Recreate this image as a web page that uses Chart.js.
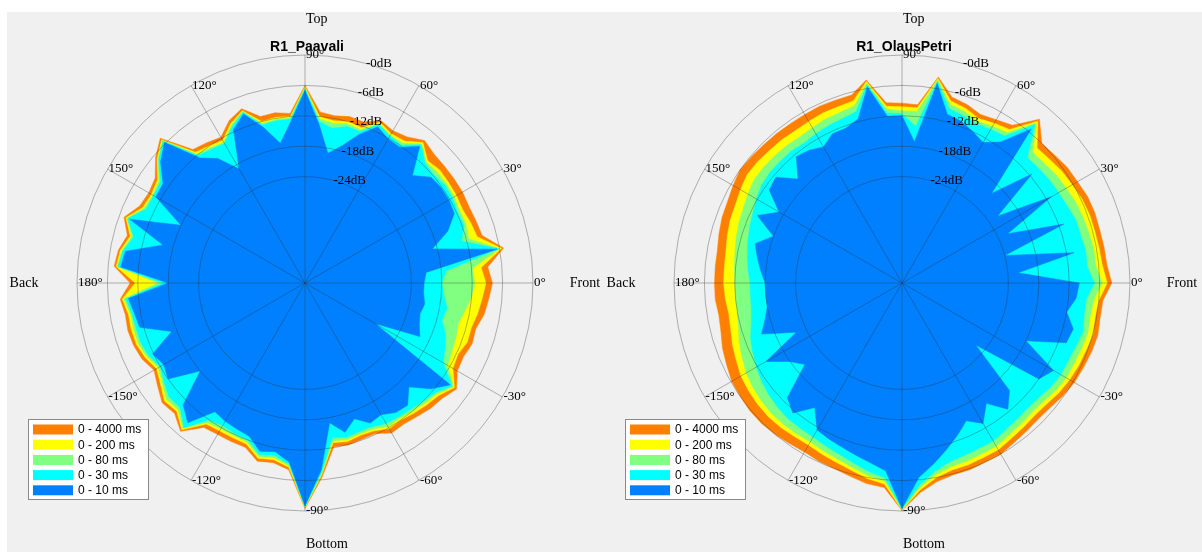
<!DOCTYPE html>
<html>
<head>
<meta charset="utf-8">
<title>R1 polar</title>
<script src="https://cdn.jsdelivr.net/npm/chart.js@4.4.0/dist/chart.umd.min.js"></script>
<style>
  html, body { margin: 0; padding: 0; background: #fff; }
  #wrap { position: relative; width: 1202px; height: 552px; overflow: hidden; }
  #panel { position: absolute; left: 7px; top: 12px; right: 0; bottom: 0; background: #f0f0f0; }
  canvas { position: absolute; left: 0; top: 0; }
</style>
</head>
<body>
<div id="wrap">
  <div id="panel"></div>
  <canvas id="paavali" width="1202" height="552" style="width:1202px;height:552px"></canvas>
  <canvas id="olaus" width="1202" height="552" style="width:1202px;height:552px"></canvas>
</div>
<script>
// direction of each sample, degrees counter-clockwise from Front
const angleDeg = [
  0, 5, 10, 15, 20, 25, 30, 35, 40, 45, 50, 55,
  60, 65, 70, 75, 80, 85, 90, 95, 100, 105, 110, 115,
  120, 125, 130, 135, 140, 145, 150, 155, 160, 165, 170, 175,
  180, 185, 190, 195, 200, 205, 210, 215, 220, 225, 230, 235,
  240, 245, 250, 255, 260, 265, 270, 275, 280, 285, 290, 295,
  300, 305, 310, 315, 320, 325, 330, 335, 340, 345, 350, 355
]

const legendLabels = ["0 - 4000 ms", "0 - 200 ms", "0 - 80 ms", "0 - 30 ms", "0 - 10 ms"]
const bandColors = ["#ff8000", "#ffff00", "#80ff80", "#00ffff", "#0080ff"]

const thetaTicks = [0, 30, 60, 90, 120, 150, 180, 210, 240, 270, 300, 330]
const thetaLabels = ["0", "30", "60", "90", "120", "150", "180", "-150", "-120", "-90", "-60", "-30"]
const ringTicks = [-24, -18, -12, -6, 0]
const rAxisAngle = 74.5

// R1_Paavali, level in dB
const paavali4000 = [
  -8.0, -8.8, -5.2, -8.8, -9.1, -9.3, -9.1, -9.1, -9.1, -9.0, -8.3, -9.8,
  -10.3, -9.6, -11.2, -11.0, -11.5, -11.1, -6.0, -11.4, -10.9, -11.0, -8.4, -9.6,
  -11.8, -11.2, -10.6, -4.6, -6.5, -8.9, -9.4, -9.0, -7.0, -8.7, -7.6, -7.2,
  -10.5, -8.4, -9.0, -8.8, -9.0, -9.5, -10.6, -9.5, -8.2, -8.6, -6.8, -10.2,
  -10.5, -10.5, -10.5, -8.6, -9.0, -8.0, -0.5, -6.5, -12.2, -11.9, -12.2, -12.2,
  -10.8, -11.0, -10.6, -10.0, -9.6, -8.5, -10.3, -10.5, -9.9, -10.1, -9.1, -8.6
]
const paavali200 = [
  -9.3, -10.1, -5.6, -9.8, -10.2, -10.7, -10.5, -10.4, -10.3, -10.8, -8.8, -10.8,
  -11.0, -10.0, -12.4, -12.0, -12.5, -12.0, -6.3, -12.0, -11.8, -12.0, -8.8, -10.3,
  -12.5, -12.0, -11.3, -5.0, -6.9, -9.5, -10.0, -9.7, -7.4, -9.3, -8.0, -7.6,
  -11.5, -8.8, -9.6, -9.5, -9.6, -10.2, -11.2, -10.2, -8.8, -9.2, -7.2, -11.0,
  -11.3, -11.3, -11.2, -9.2, -9.6, -8.5, -0.7, -7.0, -13.0, -12.6, -13.0, -12.8,
  -11.8, -12.0, -11.5, -11.0, -10.5, -9.0, -11.3, -11.7, -10.9, -11.0, -10.4, -9.9
]
const paavali80 = [
  -11.5, -11.8, -6.0, -11.5, -11.2, -11.3, -11.0, -10.9, -11.0, -11.2, -9.2, -11.3,
  -11.3, -10.3, -12.8, -12.5, -13.0, -12.5, -6.5, -12.3, -12.2, -12.4, -9.0, -10.6,
  -12.9, -12.4, -11.8, -5.2, -7.1, -9.8, -10.3, -10.0, -7.6, -9.6, -8.3, -7.8,
  -16.0, -9.1, -10.0, -10.0, -10.0, -10.6, -11.6, -10.6, -9.3, -9.6, -7.5, -11.4,
  -11.8, -11.8, -11.6, -9.6, -10.0, -8.8, -0.8, -7.2, -13.4, -13.0, -13.4, -13.2,
  -12.3, -12.4, -12.0, -11.5, -11.0, -9.3, -12.5, -13.0, -13.3, -13.7, -13.0, -12.0
]
const paavali30 = [
  -18.0, -17.0, -6.2, -13.0, -11.6, -11.8, -11.4, -11.3, -11.8, -11.5, -9.4, -11.8,
  -11.5, -10.5, -13.2, -13.0, -14.0, -13.0, -6.7, -12.5, -12.5, -12.7, -9.2, -11.0,
  -13.2, -12.8, -12.2, -5.4, -7.3, -10.2, -10.5, -10.4, -7.8, -10.0, -8.5, -8.0,
  -17.0, -9.5, -10.3, -10.5, -10.5, -11.0, -12.0, -11.0, -10.0, -10.2, -7.8, -12.0,
  -12.5, -12.2, -12.0, -10.0, -10.5, -9.1, -0.9, -7.5, -14.0, -13.5, -13.8, -13.7,
  -13.0, -12.8, -12.5, -12.0, -11.4, -9.6, -13.5, -14.5, -15.5, -17.0, -16.5, -17.5
]
const paavali10 = [
  -21.5, -21.0, -6.5, -19.0, -15.0, -12.5, -12.2, -12.2, -12.5, -15.0, -9.8, -12.3,
  -12.2, -11.0, -13.8, -17.0, -19.0, -13.5, -7.0, -13.0, -17.0, -13.2, -9.5, -11.6,
  -19.0, -15.0, -12.8, -5.8, -7.8, -10.8, -11.0, -18.0, -8.2, -16.0, -9.0, -8.5,
  -18.0, -10.0, -10.8, -11.2, -17.0, -11.8, -12.8, -12.0, -18.0, -11.0, -9.0, -14.0,
  -13.5, -13.2, -12.8, -10.6, -11.2, -9.5, -1.0, -8.0, -17.0, -14.5, -16.5, -14.5,
  -15.0, -13.8, -13.5, -16.0, -12.5, -10.0, -29.0, -20.0, -21.0, -21.5, -21.0, -21.5
]

// R1_OlausPetri, level in dB
const olaus4000 = [
  -3.6, -4.4, -4.5, -4.6, -4.5, -4.6, -5.0, -5.2, -5.7, -6.0, -2.8, -7.0,
  -7.8, -8.3, -7.5, -7.0, -3.7, -9.7, -9.5, -9.3, -4.3, -6.6, -6.6, -6.5,
  -6.6, -6.6, -6.5, -6.4, -6.2, -6.0, -6.5, -7.0, -7.2, -7.6, -8.0, -8.0,
  -8.0, -8.0, -8.3, -8.0, -7.3, -6.8, -6.2, -6.0, -5.8, -5.8, -6.0, -6.3,
  -6.5, -6.2, -6.0, -5.5, -4.8, -4.5, -0.1, -3.5, -5.2, -5.8, -5.8, -6.0,
  -6.0, -6.5, -6.8, -7.0, -6.8, -6.2, -5.7, -5.5, -5.2, -5.0, -5.3, -5.2
]
const olaus200 = [
  -4.5, -5.3, -5.5, -5.6, -5.6, -5.8, -6.2, -6.5, -7.0, -7.3, -3.3, -8.0,
  -8.6, -9.2, -8.3, -7.8, -4.0, -10.3, -10.2, -10.0, -4.6, -7.8, -8.0, -8.0,
  -8.2, -8.3, -8.1, -8.0, -7.8, -7.7, -8.2, -8.7, -8.9, -9.3, -9.7, -9.8,
  -9.8, -10.0, -10.3, -10.0, -9.4, -8.9, -8.3, -8.0, -7.8, -7.7, -7.8, -8.0,
  -8.1, -7.7, -7.3, -6.7, -5.8, -5.2, -0.2, -4.0, -6.0, -6.8, -6.8, -7.0,
  -7.0, -7.5, -7.8, -8.0, -7.8, -7.2, -6.8, -6.5, -6.3, -6.0, -6.3, -6.0
]
const olaus80 = [
  -5.5, -6.6, -6.6, -6.8, -7.0, -7.2, -7.6, -7.8, -8.3, -8.5, -3.8, -8.8,
  -9.3, -9.8, -9.0, -8.5, -4.3, -11.0, -11.0, -10.6, -5.0, -8.8, -9.2, -9.3,
  -9.6, -9.8, -9.6, -9.5, -9.4, -9.4, -9.9, -10.4, -10.7, -11.1, -11.5, -11.8,
  -12.0, -12.0, -12.0, -11.6, -10.8, -10.2, -9.5, -9.1, -8.8, -8.6, -8.6, -8.7,
  -8.8, -8.4, -8.0, -7.3, -6.4, -5.8, -0.3, -4.5, -6.6, -7.5, -7.6, -7.8,
  -7.8, -8.3, -8.6, -8.8, -8.6, -8.0, -7.6, -7.5, -7.3, -7.0, -7.3, -7.0
]
const olaus30 = [
  -7.0, -8.3, -8.2, -8.5, -8.5, -9.0, -9.3, -9.5, -9.8, -10.0, -4.2, -9.6,
  -10.0, -10.3, -9.8, -9.3, -4.6, -14.0, -11.6, -11.3, -5.3, -10.0, -10.5, -10.7,
  -11.0, -11.3, -11.0, -11.0, -11.0, -11.2, -11.8, -12.5, -13.0, -13.5, -14.0, -14.5,
  -15.0, -15.0, -14.8, -14.2, -13.2, -12.5, -11.8, -11.2, -10.7, -10.3, -10.0, -10.0,
  -9.9, -9.5, -9.0, -8.2, -7.2, -6.4, -0.4, -5.0, -7.3, -8.5, -8.8, -9.0,
  -9.0, -9.5, -9.8, -10.0, -9.8, -9.2, -8.8, -8.8, -8.5, -8.0, -8.5, -8.5
]
const olaus10 = [
  -10.0, -22.0, -10.5, -24.0, -11.0, -22.0, -11.0, -22.0, -11.5, -20.0, -5.3, -11.0,
  -13.0, -12.0, -11.0, -10.5, -5.0, -17.0, -12.0, -12.0, -5.7, -11.5, -12.5, -12.5,
  -14.0, -13.0, -12.5, -16.0, -12.5, -13.0, -17.0, -13.5, -18.0, -15.0, -16.0, -17.0,
  -18.0, -18.0, -18.0, -17.0, -15.5, -22.0, -14.0, -18.0, -20.0, -13.0, -11.5, -15.0,
  -11.5, -11.0, -10.5, -9.8, -9.0, -7.8, -0.5, -6.5, -8.8, -11.0, -13.0, -15.0,
  -13.0, -16.0, -12.5, -15.0, -26.0, -12.0, -10.5, -18.0, -10.5, -10.0, -12.0, -10.5
]

// MATLAB-style grid, labels, title and legend drawn over the patches
const polarDecor = {
  id: "polarDecor",
  afterDatasetsDraw(chart, args, opts) {
    const sc = chart.scales.r
    const ctx = chart.ctx
    const cx = sc.xCenter, cy = sc.yCenter
    const R = sc.getDistanceFromCenterForValue(0)
    const rad = d => d * Math.PI / 180
    ctx.save()

    ctx.strokeStyle = "rgba(45,45,45,0.5)"
    ctx.lineWidth = 0.7
    ringTicks.forEach(v => {
      ctx.beginPath()
      ctx.arc(cx, cy, sc.getDistanceFromCenterForValue(v), 0, Math.PI * 2)
      ctx.stroke()
    })
    thetaTicks.forEach(a => {
      ctx.beginPath()
      ctx.moveTo(cx, cy)
      ctx.lineTo(cx + R * Math.cos(rad(a)), cy - R * Math.sin(rad(a)))
      ctx.stroke()
    })

    ctx.fillStyle = "#000"
    ctx.textAlign = "left"
    ctx.textBaseline = "middle"
    ctx.font = '13px "Liberation Serif", serif'
    thetaTicks.forEach((a, i) => {
      ctx.fillText(thetaLabels[i] + "°", cx + R * Math.cos(rad(a)) + 1, cy - R * Math.sin(rad(a)))
    })
    ringTicks.forEach(v => {
      const d = sc.getDistanceFromCenterForValue(v)
      ctx.fillText("-" + Math.abs(v) + "dB", cx + d * Math.cos(rad(rAxisAngle)), cy - d * Math.sin(rad(rAxisAngle)))
    })

    ctx.font = '14px "Liberation Serif", serif'
    ctx.fillText("Top", cx + 1, 19)
    ctx.fillText("Bottom", cx + 1, 544)
    ctx.textAlign = "center"
    ctx.fillText("Back", cx - 281, cy)
    ctx.fillText("Front", cx + 280, cy)

    ctx.font = 'bold 14px "Liberation Sans", Arial, sans-serif'
    ctx.fillText(opts.title, cx + 2, 47)

    // legend box
    const lx = cx - 277, ly = 419
    ctx.fillStyle = "#fff"
    ctx.fillRect(lx, ly, 120, 80)
    ctx.strokeStyle = "#8a8a8a"
    ctx.lineWidth = 1
    ctx.strokeRect(lx + 0.5, ly + 0.5, 120, 80)
    ctx.textAlign = "left"
    ctx.font = '12px "Liberation Sans", Arial, sans-serif'
    legendLabels.forEach((t, i) => {
      const y = ly + 10.5 + i * 15.2
      ctx.fillStyle = bandColors[i]
      ctx.fillRect(lx + 5, y - 5, 40, 10)
      ctx.fillStyle = "#000"
      ctx.fillText(t, lx + 50, y + 0.5)
    })
    ctx.restore()
  }
}

function polarChart(canvasId, title, series, cx) {
  const R = 228, cy = 283
  const n = angleDeg.length
  // radar runs clockwise from the start angle, the data runs counter-clockwise
  const cw = arr => arr.map((_, i) => arr[(n - i) % n])
  return new Chart(document.getElementById(canvasId), {
    type: "radar",
    data: {
      labels: cw(angleDeg),
      datasets: series.map((s, i) => ({
        label: legendLabels[i],
        data: cw(s),
        backgroundColor: bandColors[i],
        borderColor: bandColors[i],
        borderWidth: 0.5,
        pointRadius: 0,
        fill: "start",
        order: series.length - i
      }))
    },
    options: {
      responsive: false,
      animation: false,
      layout: { padding: { left: cx - R, right: 1202 - cx - R, top: cy - R, bottom: 552 - cy - R } },
      scales: {
        r: {
          min: -45,
          max: 0,
          startAngle: 90,
          ticks: { display: false },
          grid: { display: false },
          angleLines: { display: false },
          pointLabels: { display: false }
        }
      },
      plugins: {
        legend: { display: false },
        tooltip: { enabled: false },
        polarDecor: { title: title }
      }
    },
    plugins: [polarDecor]
  })
}

polarChart("paavali", "R1_Paavali", [paavali4000, paavali200, paavali80, paavali30, paavali10], 305)
polarChart("olaus", "R1_OlausPetri", [olaus4000, olaus200, olaus80, olaus30, olaus10], 902)
</script>
</body>
</html>
